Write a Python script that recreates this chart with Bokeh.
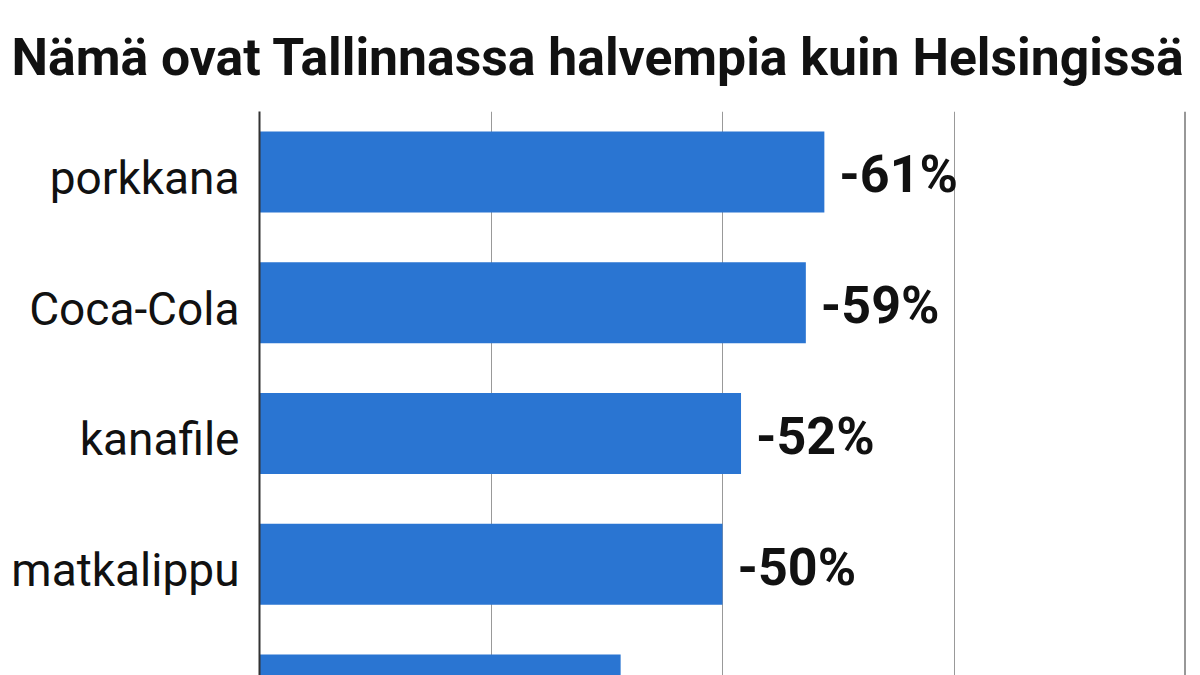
from bokeh.plotting import figure
from bokeh.models import Range1d, FixedTicker, Span, ColumnDataSource, CustomJSTickFormatter
from bokeh.core.properties import value
from bokeh.embed import file_html
from bokeh.resources import INLINE

title_text = "Nämä ovat Tallinnassa halvempia kuin Helsingissä"
categories = ["porkkana", "Coca-Cola", "kanafile", "matkalippu", "jäätelö"]
savings = [61, 59, 52, 50, 39]
value_labels = ["-61%", "-59%", "-52%", "-50%", "-39%"]
grid_ticks = [25, 50, 75]

positions = list(range(len(categories)))
label_shift = 0.045  # small visual nudge of the category labels
src = ColumnDataSource(dict(y=positions, v=savings, lab=value_labels))

p = figure(width=1200, height=675, output_backend="svg", toolbar_location=None,
           x_range=Range1d(0, 100), y_range=Range1d(3.851, -0.462),
           min_border_left=259, min_border_right=15, min_border_top=110,
           min_border_bottom=0)

p.title.text = title_text
p.title.text_font = "Roboto"
p.title.text_font_style = "bold"
p.title.text_font_size = "51.7px"
p.title.text_color = "#111111"
p.title.align = "left"
p.title.offset = -248
p.title.standoff = 48

p.hbar(y="y", right="v", left=0, height=0.62, source=src,
       fill_color="#2a75d2", line_color=None)

p.text(x="v", y="y", text="lab", source=src, x_offset=15, y_offset=3,
       text_align="left", text_baseline="middle",
       text_font=value("Roboto"), text_font_style="bold",
       text_font_size="52px", text_color="#111111")

p.xaxis.visible = False
p.yaxis.ticker = FixedTicker(ticks=[i + label_shift for i in positions])
p.yaxis.formatter = CustomJSTickFormatter(args=dict(labels=categories),
                                          code="return labels[Math.round(tick)] || '';")
p.yaxis.major_label_text_font = "Roboto"
p.yaxis.major_label_text_font_size = "46px"
p.yaxis.major_label_text_color = "#111111"
p.yaxis.major_label_standoff = 14
p.yaxis.major_tick_line_color = None
p.yaxis.minor_tick_line_color = None
p.yaxis.axis_line_color = "#333333"
p.yaxis.axis_line_width = 2

p.ygrid.grid_line_color = None
p.xgrid.ticker = FixedTicker(ticks=grid_ticks)
p.xgrid.grid_line_color = "#999999"
p.xgrid.grid_line_width = 1

p.add_layout(Span(location=100, dimension="height", line_color="#333333", line_width=2))
p.outline_line_color = None

open("out.html", "w").write(file_html(p, INLINE))
